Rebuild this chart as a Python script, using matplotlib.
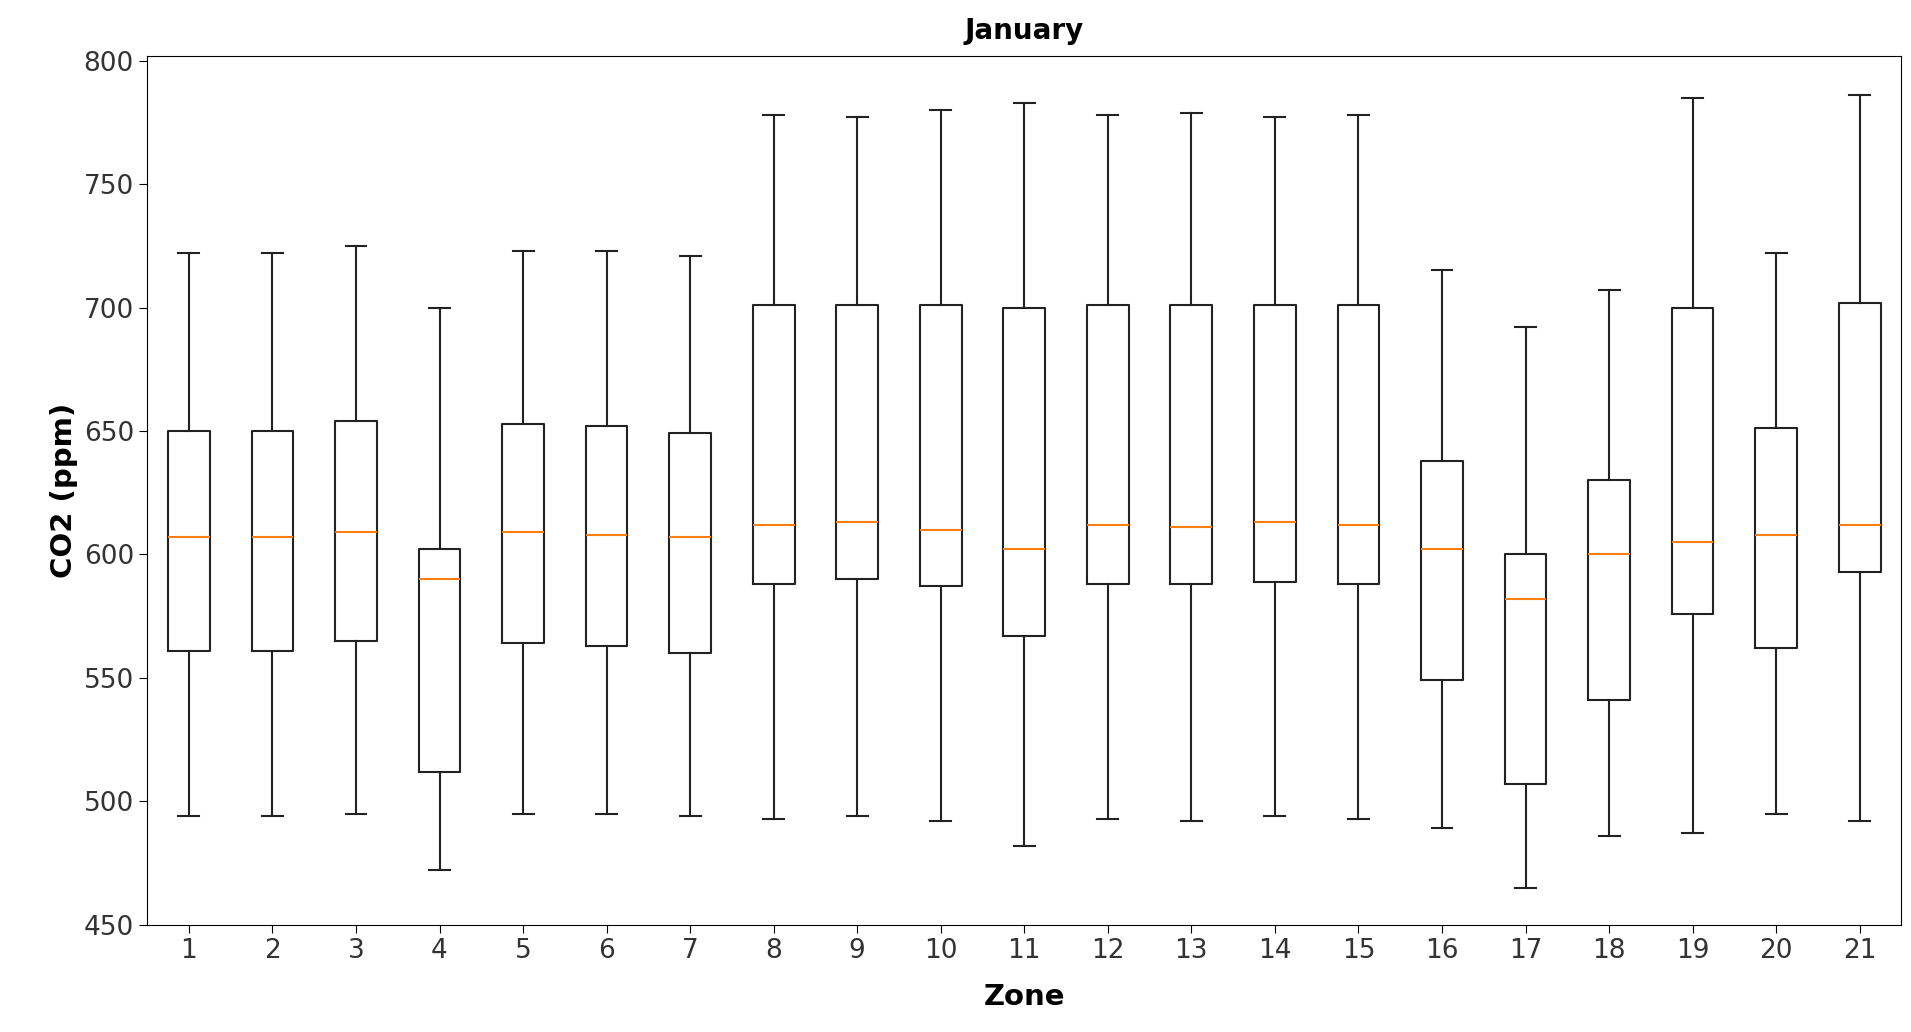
import matplotlib
matplotlib.use("Agg")
import matplotlib.pyplot as plt

zones = list(range(1, 22))
whislo = [494,494,495,472,495,495,494,493,494,492,482,493,492,494,493,489,465,486,487,495,492]
q1     = [561,561,565,512,564,563,560,588,590,587,567,588,588,589,588,549,507,541,576,562,593]
med    = [607,607,609,590,609,608,607,612,613,610,602,612,611,613,612,602,582,600,605,608,612]
q3     = [650,650,654,602,653,652,649,701,701,701,700,701,701,701,701,638,600,630,700,651,702]
whishi = [722,722,725,700,723,723,721,778,777,780,783,778,779,777,778,715,692,707,785,722,786]

stats = [dict(label=str(z), whislo=a, q1=b, med=c, q3=d, whishi=e, fliers=[])
         for z, a, b, c, d, e in zip(zones, whislo, q1, med, q3, whishi)]

fig = plt.figure(figsize=(19.11, 10.32), dpi=100)
ax = fig.add_axes([0.077, 0.104, 0.918, 0.842])
ax.bxp(stats, showfliers=False,
       boxprops=dict(color="#222222", linewidth=1.5),
       whiskerprops=dict(color="#222222", linewidth=1.5),
       capprops=dict(color="#222222", linewidth=1.5),
       medianprops=dict(color="#ff7f0e", linewidth=1.5))
ax.set_ylim(450, 802)
ax.set_yticks(range(450, 801, 50))
ax.tick_params(labelsize=19, length=6, labelcolor="#333333")
ax.set_title("January", fontsize=20, fontweight="bold", pad=12)
ax.set_xlabel("Zone", fontsize=21, fontweight="bold", labelpad=14)
ax.set_ylabel("CO2 (ppm)", fontsize=21, fontweight="bold")
fig.savefig("out.png", dpi=100)
